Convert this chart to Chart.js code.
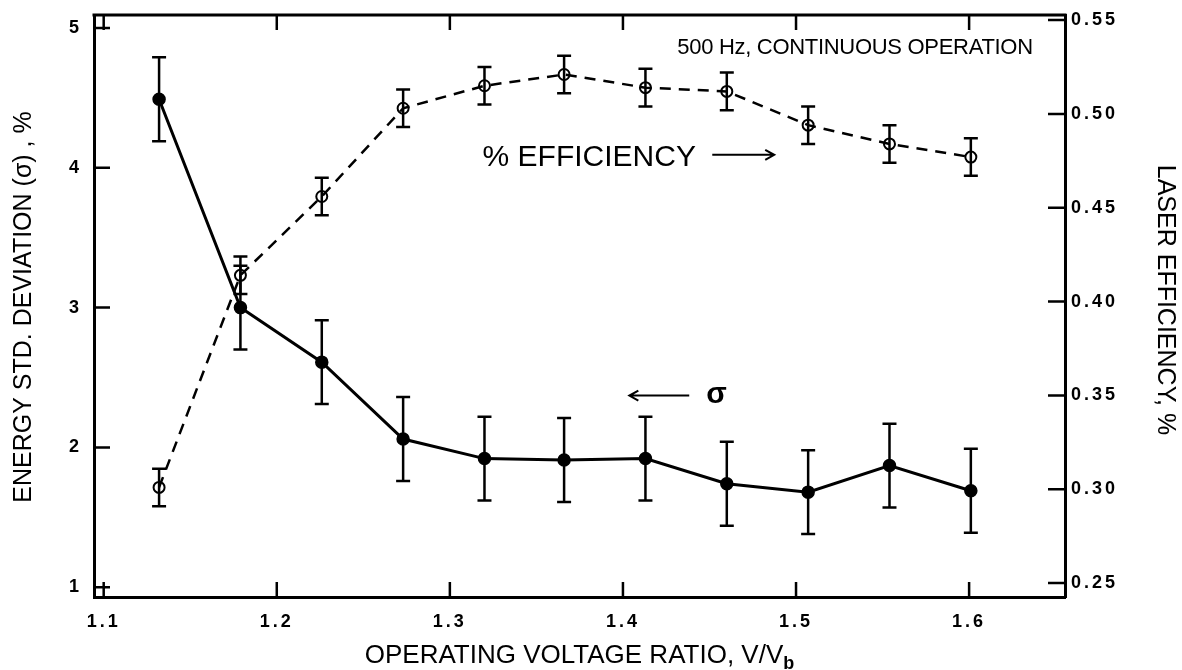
<!DOCTYPE html>
<html>
<head>
<meta charset="utf-8">
<script src="https://cdn.jsdelivr.net/npm/chart.js@4.4.0/dist/chart.umd.min.js"></script>
<style>
  body { margin: 0; background: #fff; }
  #wrap { width: 1182px; height: 670px; }
</style>
</head>
<body>
<div id="wrap"><canvas id="chart"></canvas></div>
<script>
// operating voltage ratio V/Vb for each measurement
const voltageRatio = [1.132, 1.179, 1.226, 1.273, 1.320, 1.366, 1.413, 1.460, 1.507, 1.554, 1.601];
// energy std. deviation (sigma), %  -> left axis
const sigmaValues = [4.49, 3.00, 2.61, 2.06, 1.92, 1.91, 1.92, 1.74, 1.68, 1.87, 1.69];
const sigmaErr = [0.30, 0.30, 0.30, 0.30, 0.30, 0.30, 0.30, 0.30, 0.30, 0.30, 0.30];
// laser efficiency, %  -> right axis
const efficiencyValues = [0.301, 0.414, 0.456, 0.503, 0.515, 0.521, 0.514, 0.512, 0.494, 0.484, 0.477];
const efficiencyErr = [0.010, 0.010, 0.010, 0.010, 0.010, 0.010, 0.010, 0.010, 0.010, 0.010, 0.010];

const xTicks = [1.1, 1.2, 1.3, 1.4, 1.5, 1.6];
const sigmaTicks = [1, 2, 3, 4, 5];
const efficiencyTicks = [0.25, 0.30, 0.35, 0.40, 0.45, 0.50, 0.55];

const INK = '#000';
const FAM = '"Liberation Sans", Arial, sans-serif';
const tickFont = { family: FAM, size: 18, weight: 'bold' };

const toPoints = (vals) => voltageRatio.map((x, i) => ({ x: x, y: vals[i] }));

// no extra room for labels: the plot box is fixed like the scan
const noPad = (s) => { s.paddingTop = 0; s.paddingBottom = 0; s.paddingLeft = 0; s.paddingRight = 0; };

// error bars, inward tick marks, top frame, titles and notes
const paperPlugin = {
    id: 'paper',
    beforeDraw(chart) {
        chart.ctx.letterSpacing = '3px';  // tick labels in the scan are spaced out
    },
    afterDatasetsDraw(chart) {
        const ctx = chart.ctx;
        const xs = chart.scales.x;
        const sets = [
            { scale: chart.scales.y, vals: sigmaValues, err: sigmaErr },
            { scale: chart.scales.y1, vals: efficiencyValues, err: efficiencyErr }
        ];
        ctx.save();
        ctx.strokeStyle = INK;
        ctx.lineWidth = 2.5;
        sets.forEach(function (s) {
            s.vals.forEach(function (v, i) {
                const px = xs.getPixelForValue(voltageRatio[i]);
                const top = s.scale.getPixelForValue(v + s.err[i]);
                const bot = s.scale.getPixelForValue(v - s.err[i]);
                ctx.beginPath();
                ctx.moveTo(px, top); ctx.lineTo(px, bot);
                ctx.moveTo(px - 7, top); ctx.lineTo(px + 7, top);
                ctx.moveTo(px - 7, bot); ctx.lineTo(px + 7, bot);
                ctx.stroke();
            });
        });
        ctx.restore();
    },
    afterDraw(chart) {
        const ctx = chart.ctx;
        const a = chart.chartArea;
        const xs = chart.scales.x, ys = chart.scales.y, ys2 = chart.scales.y1;
        ctx.save();
        ctx.letterSpacing = '0px';
        ctx.strokeStyle = INK;
        ctx.fillStyle = INK;

        // top frame line
        ctx.lineWidth = 3;
        ctx.beginPath();
        ctx.moveTo(a.left - 1.5, a.top); ctx.lineTo(a.right + 1.5, a.top);
        ctx.stroke();

        // inward tick marks
        ctx.lineWidth = 2.5;
        ctx.beginPath();
        xTicks.forEach(function (v) {
            const p = xs.getPixelForValue(v);
            ctx.moveTo(p, a.bottom); ctx.lineTo(p, a.bottom - 15);
            ctx.moveTo(p, a.top); ctx.lineTo(p, a.top + 15);
        });
        sigmaTicks.forEach(function (v) {
            const p = ys.getPixelForValue(v);
            ctx.moveTo(a.left, p); ctx.lineTo(a.left + 16, p);
        });
        efficiencyTicks.forEach(function (v) {
            const p = ys2.getPixelForValue(v);
            ctx.moveTo(a.right, p); ctx.lineTo(a.right - 17, p);
        });
        ctx.stroke();

        const X = (v) => xs.getPixelForValue(v);
        const Y = (v) => ys.getPixelForValue(v);

        // notes inside the plot
        ctx.textBaseline = 'alphabetic';
        ctx.textAlign = 'left';
        ctx.font = '22px ' + FAM;
        ctx.letterSpacing = '-0.3px';
        ctx.fillText('500 Hz, CONTINUOUS OPERATION', X(1.4314), Y(4.814));
        ctx.letterSpacing = '0px';
        ctx.font = '30px ' + FAM;
        ctx.fillText('% EFFICIENCY', X(1.3189), Y(4.014));
        ctx.font = 'bold 30px ' + FAM;
        ctx.fillText('σ', X(1.4481), Y(2.321));

        // arrows
        ctx.lineWidth = 2;
        const arrow = function (x0, x1, yv) {
            const yp = Y(yv);
            const p0 = X(x0), p1 = X(x1);
            const dir = p1 > p0 ? 1 : -1;
            ctx.beginPath();
            ctx.moveTo(p0, yp); ctx.lineTo(p1, yp);
            ctx.moveTo(p1 - dir * 9, yp - 5); ctx.lineTo(p1, yp); ctx.lineTo(p1 - dir * 9, yp + 5);
            ctx.stroke();
        };
        arrow(1.4516, 1.4874, 4.093);
        arrow(1.4383, 1.4037, 2.371);

        // axis titles
        ctx.font = '25px ' + FAM;
        ctx.textAlign = 'center';
        ctx.textBaseline = 'middle';
        ctx.save();
        ctx.translate(24, 307);
        ctx.rotate(-Math.PI / 2);
        ctx.fillText('ENERGY STD. DEVIATION (σ) , %', 0, 0);
        ctx.restore();

        ctx.save();
        ctx.translate(1165, 300);
        ctx.rotate(Math.PI / 2);
        ctx.fillText('LASER EFFICIENCY, %', 0, 0);
        ctx.restore();

        // x title with subscript b
        ctx.textAlign = 'left';
        ctx.textBaseline = 'alphabetic';
        const main = 'OPERATING VOLTAGE RATIO, V/V';
        ctx.font = '26px ' + FAM;
        const w1 = ctx.measureText(main).width;
        ctx.font = 'bold 18px ' + FAM;
        const w2 = ctx.measureText('b').width;
        const x0 = (a.left + a.right) / 2 - (w1 + w2) / 2;
        ctx.font = '26px ' + FAM;
        ctx.fillText(main, x0, 663);
        ctx.font = 'bold 18px ' + FAM;
        ctx.fillText('b', x0 + w1, 669);
        ctx.restore();
    }
};

const ctx = document.getElementById('chart').getContext('2d');
const myChart = new Chart(ctx, {
    type: 'line',
    data: {
        datasets: [
            {
                label: 'σ',
                data: toPoints(sigmaValues),
                yAxisID: 'y',
                borderColor: INK,
                borderWidth: 3,
                pointRadius: 6,
                pointBorderWidth: 1.5,
                pointBackgroundColor: INK,
                pointBorderColor: INK,
                tension: 0
            },
            {
                label: '% Efficiency',
                data: toPoints(efficiencyValues),
                yAxisID: 'y1',
                borderColor: INK,
                borderWidth: 2.5,
                borderDash: [11, 8],
                pointRadius: 5.5,
                pointBorderWidth: 2,
                pointBackgroundColor: 'rgba(255,255,255,0)',
                pointBorderColor: INK,
                tension: 0
            }
        ]
    },
    options: {
        responsive: true,
        maintainAspectRatio: false,
        animation: false,
        layout: { padding: { top: 15, left: 0, right: 0, bottom: 0 } },
        plugins: {
            legend: { display: false },
            tooltip: { enabled: false }
        },
        scales: {
            x: {
                type: 'linear',
                position: 'bottom',
                min: 1.0944,
                max: 1.6554,
                afterBuildTicks: (s) => { s.ticks = xTicks.map(v => ({ value: v })); },
                afterFit: (s) => { s.height = 73; noPad(s); },
                ticks: {
                    callback: (v) => v.toFixed(1),
                    font: tickFont,
                    color: INK,
                    padding: 14,
                    autoSkip: false,
                    maxRotation: 0
                },
                grid: { display: false, drawTicks: false },
                border: { color: INK, width: 3 }
            },
            y: {
                type: 'linear',
                position: 'left',
                min: 0.93,
                max: 5.093,
                afterBuildTicks: (s) => { s.ticks = sigmaTicks.map(v => ({ value: v })); },
                afterFit: (s) => { s.width = 94; noPad(s); },
                ticks: {
                    callback: (v) => String(v),
                    font: tickFont,
                    color: INK,
                    padding: 12,
                    autoSkip: false
                },
                grid: { display: false, drawTicks: false },
                border: { color: INK, width: 3 }
            },
            y1: {
                type: 'linear',
                position: 'right',
                min: 0.2426,
                max: 0.5527,
                afterBuildTicks: (s) => { s.ticks = efficiencyTicks.map(v => ({ value: v })); },
                afterFit: (s) => { s.width = 117; noPad(s); },
                ticks: {
                    callback: (v) => v.toFixed(2),
                    font: tickFont,
                    color: INK,
                    padding: 6,
                    autoSkip: false
                },
                grid: { display: false, drawTicks: false },
                border: { color: INK, width: 3 }
            }
        }
    },
    plugins: [paperPlugin]
});
</script>
</body>
</html>
